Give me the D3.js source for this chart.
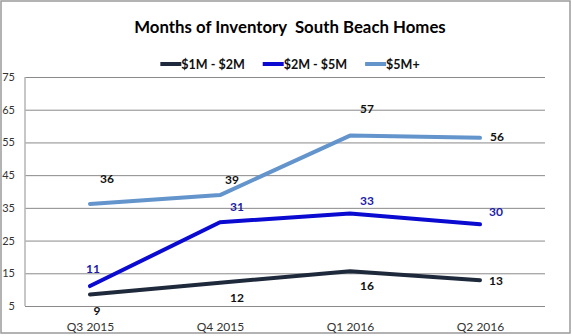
<!DOCTYPE html>
<html>
<head>
<meta charset="utf-8">
<script src="https://cdn.jsdelivr.net/npm/d3@7/dist/d3.min.js"></script>
<style>
  html, body { margin: 0; padding: 0; background: #fff; }
  svg { display: block; }
</style>
</head>
<body>
<svg id="chart" width="572" height="336"></svg>
<script>
// ---- data ----
const title = "Months of Inventory  South Beach Homes";
const categories = ["Q3 2015", "Q4 2015", "Q1 2016", "Q2 2016"];
const seriesNames = ["$1M - $2M", "$2M - $5M", "$5M+"];
const values1to2 = [8.5, 12.1, 15.6, 12.9];
const values2to5 = [11.1, 30.6, 33.3, 30.0];
const values5plus = [36.2, 38.9, 57.1, 56.4];
const labels1to2 = ["9", "12", "16", "13"];
const labels2to5 = ["11", "31", "33", "30"];
const labels5plus = ["36", "39", "57", "56"];
const yTicks = [5, 15, 25, 35, 45, 55, 65, 75];

// ---- styles ----
const colors = ["#1e2a3c", "#0a0ad0", "#6394cc"];
const labelColors = ["#111", "#1c1ca8", "#111"];
// label offsets (dx to centre, dy to baseline) per series per point
const labelOffsets = [
  [[7, 20], [17, 19], [17, 19], [16, 5]],
  [[3, -13], [17, -11], [17, -8], [16, -8]],
  [[17, -21], [12, -11], [17, -23], [17, 3]]
];
const font = "Lato, 'Open Sans', sans-serif";

const series = [
  { name: seriesNames[0], values: values1to2, labels: labels1to2 },
  { name: seriesNames[1], values: values2to5, labels: labels2to5 },
  { name: seriesNames[2], values: values5plus, labels: labels5plus }
];

const svg = d3.select("#chart");
const plot = { left: 25, right: 545, top: 77, bottom: 306 };

// border
svg.append("rect").attr("x", 1).attr("y", 1).attr("width", 569).attr("height", 332)
  .attr("fill", "#fff").attr("stroke", "#9a9a9a").attr("stroke-width", 1.5);

const x = d3.scalePoint().domain(categories).range([plot.left, plot.right]).padding(0.5);
const y = d3.scaleLinear().domain([5, 75]).range([plot.bottom, plot.top]);

// y grid + labels
const yAxis = svg.append("g").attr("transform", `translate(${plot.left},0)`)
  .call(d3.axisLeft(y).tickValues(yTicks).tickSize(-(plot.right - plot.left)).tickPadding(10));
yAxis.select(".domain").remove();
yAxis.selectAll(".tick line").attr("stroke", "#8a8a8a").attr("stroke-width", 1);
yAxis.selectAll(".tick text").attr("fill", "#333").style("font-family", font).style("font-size", "11px");

// vertical axis line
svg.append("line").attr("x1", plot.left).attr("x2", plot.left)
  .attr("y1", plot.top).attr("y2", plot.bottom)
  .attr("stroke", "#b4b4b4").attr("stroke-width", 1.5);

// x axis labels
const xAxis = svg.append("g").attr("transform", `translate(0,${plot.bottom})`)
  .call(d3.axisBottom(x).tickSize(0).tickPadding(16));
xAxis.select(".domain").remove();
xAxis.selectAll(".tick text").attr("fill", "#333").style("font-family", font).style("font-size", "12px");

// lines
const line = d3.line().x((d, i) => x(categories[i])).y(d => y(d));
series.forEach((s, si) => {
  svg.append("path").datum(s.values)
    .attr("d", line).attr("fill", "none")
    .attr("stroke", colors[si]).attr("stroke-width", 4)
    .attr("stroke-linejoin", "round").attr("stroke-linecap", "round");
});

// labels
series.forEach((s, si) => {
  svg.append("g").selectAll("text").data(s.values).join("text")
    .attr("x", (d, i) => x(categories[i]) + labelOffsets[si][i][0])
    .attr("y", (d, i) => y(d) + labelOffsets[si][i][1])
    .attr("text-anchor", "middle")
    .attr("fill", labelColors[si])
    .style("font-family", font).style("font-size", "12px").style("font-weight", "bold")
    .text((d, i) => s.labels[i]);
});

// title
svg.append("text").attr("x", 290).attr("y", 33).attr("text-anchor", "middle")
  .attr("fill", "#000").style("font-family", font).style("font-size", "16.8px").style("font-weight", "bold")
  .style("white-space", "pre")
  .text(title);

// legend
const legend = svg.append("g");
let cx = 0;
series.forEach((s, si) => {
  const g = legend.append("g").attr("transform", `translate(${cx},0)`);
  g.append("line").attr("x1", 0).attr("x2", 21).attr("y1", 0).attr("y2", 0)
    .attr("stroke", colors[si]).attr("stroke-width", 4);
  const tx = g.append("text").attr("x", 21).attr("y", 4.5)
    .attr("fill", "#111").style("font-family", font).style("font-size", "12.5px").style("font-weight", "bold")
    .text(s.name);
  cx += 21 + tx.node().getComputedTextLength() + 18;
});
const lw = cx - 18;
legend.attr("transform", `translate(${290 - lw / 2},64)`);
</script>
</body>
</html>
